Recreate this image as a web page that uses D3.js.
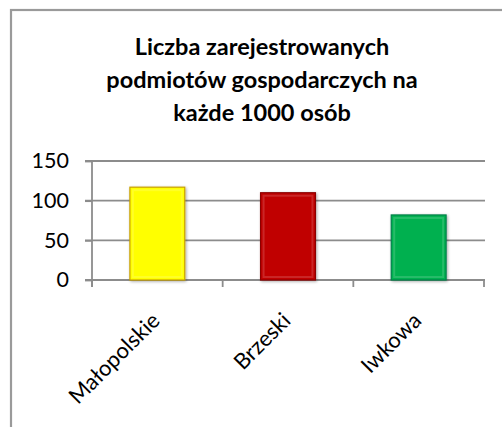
<!DOCTYPE html>
<html><head><meta charset="utf-8">
<script src="https://cdn.jsdelivr.net/npm/d3@7"></script>
<style>html,body{margin:0;padding:0;background:#fff;overflow:hidden}</style>
</head><body>
<svg id="c" width="502" height="427"></svg>
<script>
const categories = ["Małopolskie", "Brzeski", "Iwkowa"];
const values = [117, 110, 82];
const colors = ["#FFFF00", "#C00000", "#00B050"];
const strokes = ["#C8A000", "#8B0000", "#00804A"];
const yTicks = [0, 50, 100, 150];
const titleLines = ["Liczba zarejestrowanych", "podmiotów gospodarczych na", "każde 1000 osób"];

const svg = d3.select("#c");
const font = "Lato, 'Open Sans', sans-serif";

// chart border
svg.append("rect").attr("x", 11).attr("y", 10).attr("width", 520).attr("height", 440)
  .attr("fill", "#fff").attr("stroke", "#9a9a9a").attr("stroke-width", 2.2);

// title
const title = svg.append("text").attr("text-anchor", "middle")
  .attr("font-family", font).attr("font-weight", "bold").attr("font-size", 23.5).attr("fill", "#000");
titleLines.forEach((t, i) => title.append("tspan").attr("x", 262).attr("y", 55 + i * 33).text(t));

const x = d3.scaleBand().domain(categories).range([92, 484]).paddingInner(0.58).paddingOuter(0.29);
const y = d3.scaleLinear().domain([0, 150]).range([280, 161]);

// gridlines
svg.append("g").selectAll("line").data(yTicks).join("line")
  .attr("x1", 85).attr("x2", 485).attr("y1", d => y(d)).attr("y2", d => y(d))
  .attr("stroke", "#8c8c8c").attr("stroke-width", 1.8);

// y axis
const yAxis = svg.append("g").attr("transform", "translate(92,0)")
  .call(d3.axisLeft(y).tickValues(yTicks).tickSize(7).tickPadding(16));
yAxis.select(".domain").attr("stroke", "#8c8c8c").attr("stroke-width", 1.8)
  .attr("d", `M0,${y(150)}V${y(0) + 7}`);
yAxis.selectAll(".tick line").attr("stroke", "#8c8c8c").attr("stroke-width", 1.8);
yAxis.selectAll(".tick text").attr("font-family", font).attr("font-size", 21.5).attr("fill", "#000");

// x axis ticks (category boundaries)
const step = x.step();
const bounds = [0, 1, 2, 3].map(i => x(categories[0]) - x.paddingInner() * step / 2 + i * step);
svg.append("g").selectAll("line").data(bounds).join("line")
  .attr("x1", d => d).attr("x2", d => d).attr("y1", y(0)).attr("y2", y(0) + 7)
  .attr("stroke", "#8c8c8c").attr("stroke-width", 1.8);

// bars
const defs = svg.append("defs");
const f = defs.append("filter").attr("id", "sh").attr("x", "-20%").attr("y", "-20%").attr("width", "140%").attr("height", "140%");
f.append("feGaussianBlur").attr("in", "SourceAlpha").attr("stdDeviation", 1.5);
f.append("feOffset").attr("dx", 1).attr("dy", 1).attr("result", "b");
f.append("feComponentTransfer").append("feFuncA").attr("type", "linear").attr("slope", 0.35);
const m = f.append("feMerge"); m.append("feMergeNode"); m.append("feMergeNode").attr("in", "SourceGraphic");

const bars = svg.append("g");
categories.forEach((c, i) => {
  bars.append("rect").attr("x", x(c)).attr("y", y(values[i])).attr("width", x.bandwidth())
    .attr("height", y(0) - y(values[i])).attr("fill", colors[i]).attr("stroke", strokes[i])
    .attr("stroke-width", 1.2).attr("filter", "url(#sh)");
  bars.append("rect").attr("x", x(c) + 3).attr("y", y(values[i]) + 3).attr("width", x.bandwidth() - 6)
    .attr("height", y(0) - y(values[i]) - 6).attr("fill", "none")
    .attr("stroke", "#ffffff").attr("stroke-opacity", 0.15).attr("stroke-width", 2);
});

// x labels
svg.append("g").selectAll("text").data(categories).join("text")
  .attr("text-anchor", "end").attr("font-family", font).attr("font-size", 22).attr("fill", "#000")
  .attr("transform", d => `translate(${x(d) + x.bandwidth() / 2 + 4},${y(0) + 42}) rotate(-45)`)
  .text(d => d);
</script>
</body></html>
